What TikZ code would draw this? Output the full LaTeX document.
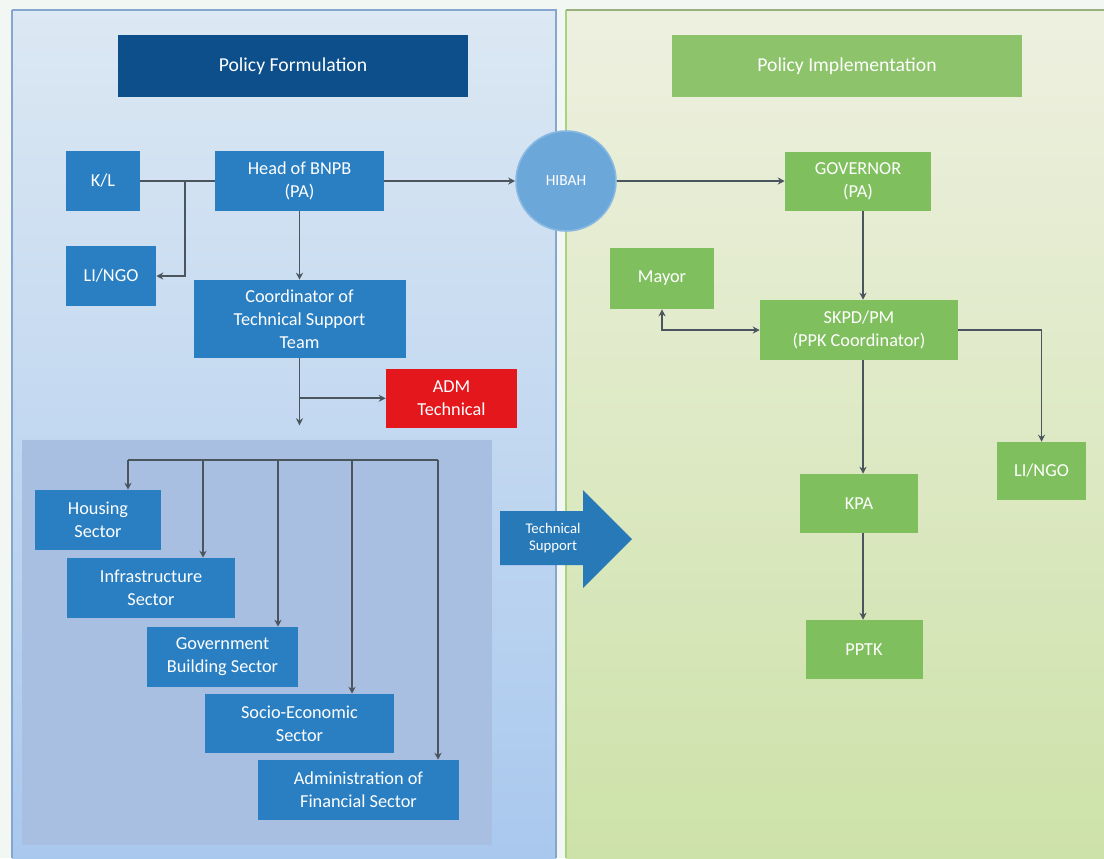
\documentclass[tikz,border=0pt]{standalone}
\usepackage{fontspec}
\setmainfont{Carlito}
\usetikzlibrary{arrows.meta,calc}
\definecolor{pagebg}{HTML}{F3F7F3}
\definecolor{leftTop}{HTML}{DCE8F3}
\definecolor{leftBot}{HTML}{A9C8EE}
\definecolor{leftEdge}{HTML}{84A6CF}
\definecolor{rightTop}{HTML}{EEF0E0}
\definecolor{rightBot}{HTML}{CDE2A9}
\definecolor{rightEdge}{HTML}{A9D27F}
\definecolor{sectorBg}{HTML}{A9BFE2}
\definecolor{blueBox}{HTML}{2A7FC2}
\definecolor{navyBox}{HTML}{0D4F8B}
\definecolor{greenBox}{HTML}{80BF5E}
\definecolor{greenHead}{HTML}{8DC36A}
\definecolor{redBox}{HTML}{E4171D}
\definecolor{circleBlue}{HTML}{6CA7DA}
\definecolor{wire}{HTML}{4B555E}
\newdimen\px \px=0.025cm
\begin{document}
\begin{tikzpicture}[x=0.025cm,y=-0.025cm,
  boxtext/.style={text=white,align=center,inner sep=1pt,
    font=\fontsize{13}{16.5}\selectfont},
  bluebox/.style={boxtext,fill=blueBox},
  greenbox/.style={boxtext,fill=greenBox},
  header/.style={text=white,align=center,inner sep=1pt,
    font=\fontsize{14}{17}\selectfont,minimum width=350\px,minimum height=62\px},
  link/.style={draw=wire,line width=1.2pt,-{Stealth[length=0.175cm,width=0.175cm]}},
  twoway/.style={draw=wire,line width=1.2pt,{Stealth[length=0.175cm,width=0.175cm]}-{Stealth[length=0.175cm,width=0.175cm]}},
  plain/.style={draw=wire,line width=1.2pt}]
\useasboundingbox (0,0) rectangle (1104,858);
\fill[pagebg] (0,0) rectangle (1104,858);

% the two panels
\shade[top color=leftTop,bottom color=leftBot] (12,10) rectangle (556,858);
\draw[leftEdge,line width=0.0625cm] (12,10) -- (556,10) -- (556,858);
\draw[leftEdge,line width=0.0625cm] (12,10) -- (12,858);
\shade[top color=rightTop,bottom color=rightBot] (566,10) rectangle (1104,858);
\draw[rightEdge,line width=0.0625cm] (566,858) -- (566,10);
\draw[rightEdge!60!gray,line width=0.05cm] (566,10) -- (1104,10);

% sector area
\fill[sectorBg] (22,440) rectangle (492,845);

% headers
\node[header,fill=navyBox] (pf) at (293,66) {Policy Formulation};
\node[header,fill=greenHead] (pi) at (847,66) {Policy Implementation};

% policy formulation nodes
\node[bluebox,minimum width=74\px,minimum height=60\px] (ks) at (103,181) {K/L};
\node[bluebox,minimum width=169\px,minimum height=60\px] (head) at (299.5,181) {Head of BNPB\\(PA)};
\node[bluebox,minimum width=90\px,minimum height=60\px] (ngoL) at (111,276) {LI/NGO};
\node[bluebox,minimum width=212\px,minimum height=78\px] (coord) at (299.5,319) {Coordinator of\\Technical Support\\Team};
\node[boxtext,fill=redBox,minimum width=131\px,minimum height=59\px] (adm) at (451.5,398.5) {ADM\\Technical};

\node[bluebox,minimum width=126\px,minimum height=60\px] (housing) at (98,520) {Housing\\Sector};
\node[bluebox,minimum width=168\px,minimum height=60\px] (infra) at (151,588) {Infrastructure\\Sector};
\node[bluebox,minimum width=151\px,minimum height=60\px] (govb) at (222.5,657) {Government\\Building Sector};
\node[bluebox,minimum width=189\px,minimum height=59\px] (socio) at (299.5,723.5) {Socio-Economic\\Sector};
\node[bluebox,minimum width=201\px,minimum height=60\px] (admin) at (358.5,790) {Administration of\\Financial Sector};

% grants circle
\node[circle,fill=circleBlue,draw=circleBlue!80!white,line width=0.04cm,minimum size=100\px,
  text=white,font=\fontsize{11}{13}\selectfont,inner sep=0pt] (hibah) at (566,181) {HIBAH};

% policy implementation nodes
\node[greenbox,minimum width=146\px,minimum height=59\px] (governor) at (858,181) {GOVERNOR\\(PA)};
\node[greenbox,minimum width=104\px,minimum height=61\px] (mayor) at (662,278.5) {Mayor};
\node[greenbox,minimum width=198\px,minimum height=60\px] (skpd) at (859,330) {SKPD/PM\\(PPK Coordinator)};
\node[greenbox,minimum width=89\px,minimum height=58\px] (ngoR) at (1041.5,471) {LI/NGO};
\node[greenbox,minimum width=118\px,minimum height=59\px] (kpa) at (859,503.5) {KPA};
\node[greenbox,minimum width=117\px,minimum height=59\px] (pptk) at (864,649.5) {PPTK};

% technical support block arrow
\fill[blueBox!95!black] (500,511) -- (583,511) -- (583,490) -- (632,539)
  -- (583,588) -- (583,565) -- (500,565) -- cycle;
\node[text=white,align=center,font=\fontsize{10.5}{12}\selectfont,inner sep=0pt] (tsup) at (553,538) {Technical\\Support};

% helper points for branching wires
\coordinate (ksSplit) at (185,181);
\coordinate (coordEnd) at ($(coord.south)+(0,67)$);
\coordinate (admSplit) at ($(coord.south)+(0,40)$);
\coordinate (spine) at (863,0);
\coordinate (busL) at (128,460);
\coordinate (busR) at (438,460);
\coordinate (b1) at (128,460);
\coordinate (b2) at (203,460);
\coordinate (b3) at (278,460);
\coordinate (b4) at (352,460);
\coordinate (b5) at (438,460);

% wires, formulation side
\draw[plain] (ks.east) -- (head.west);
\draw[link] (ksSplit) |- (ngoL.east);
\draw[link] (head.east) -- (hibah.west);
\draw[link] (head.south) -- (coord.north);
\draw[link] (coord.south) -- (coordEnd);
\draw[link] (admSplit) -- (admSplit -| adm.west);
\draw[plain] (busL) -- (busR);
\draw[link] (b1) -- (housing.north -| b1);
\draw[link] (b2) -- (infra.north -| b2);
\draw[link] (b3) -- (govb.north -| b3);
\draw[link] (b4) -- (socio.north -| b4);
\draw[link] (b5) -- (admin.north -| b5);

% wires, implementation side
\draw[link] (hibah.east) -- (governor.west);
\draw[link] (governor.south -| spine) -- (skpd.north -| spine);
\draw[twoway] (mayor.south) |- (skpd.west);
\draw[link] (skpd.east) -| (ngoR.north);
\draw[link] (skpd.south -| spine) -- (kpa.north -| spine);
\draw[link] (kpa.south -| spine) -- (pptk.north -| spine);
\end{tikzpicture}
\end{document}
